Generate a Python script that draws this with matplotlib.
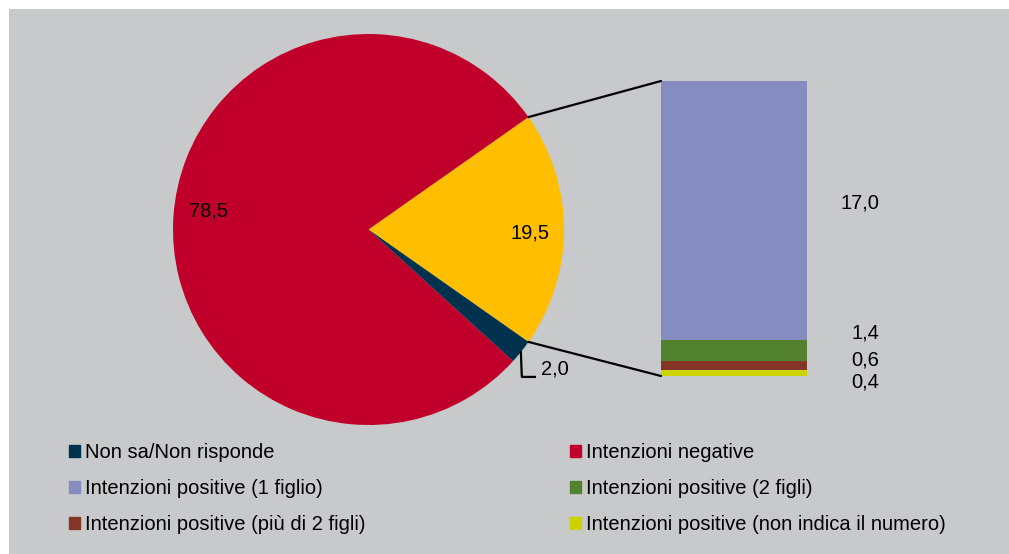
#!/usr/bin/env python3

# Import libraries
import matplotlib.pyplot as plt
import numpy as np
from matplotlib.patches import Rectangle, ConnectionPatch

# Data
pie_labels = ["Intenzioni positive", "Intenzioni negative", "Non sa/Non risponde"]
pie_values = [19.5, 78.5, 2.0]
pie_colors = ["#FFBE00", "#C0002A", "#00324E"]

bar_labels = ["Intenzioni positive (1 figlio)", "Intenzioni positive (2 figli)",
              "Intenzioni positive (più di 2 figli)",
              "Intenzioni positive (non indica il numero)"]
bar_values = [17.0, 1.4, 0.6, 0.4]
bar_colors = ["#858CBF", "#52822F", "#843526", "#CCD300"]

W, H = 1009, 554
plt.rcParams["font.family"] = ["Liberation Sans", "DejaVu Sans"]
fs = 14.5

fig = plt.figure(figsize=(W / 100, H / 100), dpi=100)
fig.patch.set_facecolor("white")
fig.patches.append(Rectangle((9 / W, 0), 1000 / W, (H - 9) / H,
                             transform=fig.transFigure, facecolor="#C8C9CB",
                             edgecolor="none", zorder=-10))


def fmt(v):
    return f"{v:.1f}".replace(".", ",")


# Pie
cx, cy, r = 368.5, 229.5, 195.5
ax_pie = fig.add_axes([(cx - r) / W, (H - cy - r) / H, 2 * r / W, 2 * r / H])
start = -pie_values[0] / 100 * 360 / 2
wedges, _ = ax_pie.pie(pie_values, colors=pie_colors, startangle=start,
                       counterclock=True, radius=1,
                       wedgeprops=dict(linewidth=0))
ax_pie.set_xlim(-1, 1)
ax_pie.set_ylim(-1, 1)
ax_pie.axis("off")

# Pie labels (positions in pie units)
ax_pie.text(-0.82, 0.095, fmt(pie_values[1]), ha="center", va="center", fontsize=fs)
ax_pie.text(0.826, -0.018, fmt(pie_values[0]), ha="center", va="center", fontsize=fs)

# Leader line for small slice
a = np.deg2rad(wedges[2].theta1 + 3.5)
p0 = (np.cos(a), np.sin(a))
ax_pie.plot([p0[0], p0[0] + 0.005, p0[0] + 0.072],
            [p0[1], -0.754, -0.754], color="black", lw=1.6, clip_on=False)
ax_pie.text(0.952, -0.714, fmt(pie_values[2]), ha="center", va="center", fontsize=fs)

# Stacked bar
bx0, bx1, by0, by1 = 661, 807, 81, 376
ax_bar = fig.add_axes([bx0 / W, (H - by1) / H, (bx1 - bx0) / W, (by1 - by0) / H])
bottom = sum(bar_values)
for v, c in zip(bar_values, bar_colors):
    bottom -= v
    ax_bar.bar(0, v, bottom=bottom, width=1, color=c, linewidth=0)
ax_bar.set_xlim(-0.5, 0.5)
ax_bar.set_ylim(0, sum(bar_values))
ax_bar.axis("off")

# Bar labels (right aligned at x=879 px)
label_y = [11.37, 2.84, 1.06, -0.40]
for v, y in zip(bar_values, label_y):
    ax_bar.annotate(fmt(v), xy=(0.5, y), xytext=(879 - bx1, 0),
                    textcoords="offset pixels", ha="right", va="center",
                    fontsize=fs, annotation_clip=False)

# Connectors
t1 = np.deg2rad(wedges[0].theta2)
t0 = np.deg2rad(wedges[0].theta1)
for ang, yb in [(t1, sum(bar_values)), (t0, 0)]:
    con = ConnectionPatch(xyA=(np.cos(ang), np.sin(ang)), coordsA=ax_pie.transData,
                          xyB=(-0.5, yb), coordsB=ax_bar.transData,
                          color="black", lw=1.6)
    fig.add_artist(con)

# Legend
handles = {lab: Rectangle((0, 0), 1, 1, color=c)
           for lab, c in zip(pie_labels + bar_labels, pie_colors + bar_colors)}
col1 = ["Non sa/Non risponde", bar_labels[0], bar_labels[2]]
col2 = ["Intenzioni negative", bar_labels[1], bar_labels[3]]
for col, x in [(col1, 69), (col2, 570)]:
    leg = fig.legend([handles[k] for k in col], col, loc="upper left",
                     bbox_to_anchor=(x / W, (H - 443) / H), frameon=False,
                     fontsize=fs, handlelength=0.55, handleheight=0.55,
                     handletextpad=0.25, labelspacing=0.85, borderpad=0,
                     borderaxespad=0)

fig.savefig("out.png", dpi=100)
